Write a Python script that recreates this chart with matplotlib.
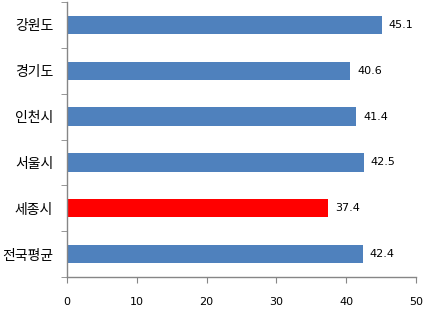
import matplotlib
matplotlib.use("Agg")
import matplotlib.pyplot as plt
import numpy as np

categories = ["강원도", "경기도", "인천시", "서울시", "세종시", "전국평균"]
values = [45.1, 40.6, 41.4, 42.5, 37.4, 42.4]
colors = ["#4F81BD", "#4F81BD", "#4F81BD", "#4F81BD", "#FF0000", "#4F81BD"]
xticks = [0, 10, 20, 30, 40, 50]

plt.rcParams['font.family'] = ['Noto Sans CJK KR', 'DejaVu Sans']

fig = plt.figure(figsize=(4.34, 3.11), dpi=100)
ax = fig.add_axes([67/434, 1 - 277/311, (416 - 67)/434, (277 - 2)/311])

y = np.arange(len(categories))
ax.barh(y, values, height=0.4, color=colors)
ax.set_ylim(len(categories) - 0.5, -0.5)
ax.set_xlim(0, 50)

for yi, v in zip(y, values):
    ax.text(v + 1.0, yi, f"{v:.1f}", va="center", ha="left", fontsize=8,
            family=['DejaVu Sans'], color="#000000")

ax.set_yticks(y)
ax.set_yticklabels(categories, fontsize=10)
ax.tick_params(axis='y', which='major', length=0, pad=10)
ax.set_yticks(np.arange(-0.5, len(categories)), minor=True)
ax.tick_params(axis='y', which='minor', length=4, color="#868686", direction='out')

ax.set_xticks(xticks)
ax.set_xticklabels([str(t) for t in xticks], fontsize=8, family=['DejaVu Sans'])
ax.tick_params(axis='x', length=4, color="#868686", pad=10.5)

for s in ['top', 'right']:
    ax.spines[s].set_visible(False)
for s in ['left', 'bottom']:
    ax.spines[s].set_color("#868686")
    ax.spines[s].set_linewidth(1)

fig.savefig("out.png", dpi=100)
